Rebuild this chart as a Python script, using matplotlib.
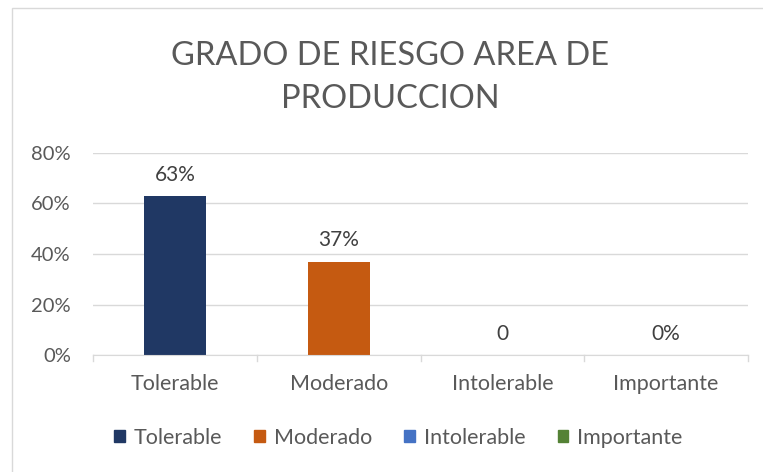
import matplotlib.pyplot as plt
from matplotlib.patches import Rectangle

categorias = ["Tolerable", "Moderado", "Intolerable", "Importante"]
valores = [0.63, 0.37, 0.0, 0.0]
etiquetas = ["63%", "37%", "0", "0%"]
colores = ["#203864", "#C55A11", "#4472C4", "#548235"]
ticks_y = [0, 0.2, 0.4, 0.6, 0.8]

plt.rcParams['font.family'] = ['Lato', 'DejaVu Sans']
gris = "#595959"

fig = plt.figure(figsize=(7.63, 4.72), dpi=100)
ax = fig.add_axes([93/763, 1-355/472, 655/763, 202/472])

x = range(len(categorias))
barras = ax.bar(x, valores, width=0.38, color=colores)
for i, b in enumerate(barras):
    ax.text(b.get_x() + b.get_width()/2, valores[i] + 0.045, etiquetas[i],
            ha="center", va="bottom", fontsize=15, color="#404040")

ax.set_xlim(-0.5, 3.5)
ax.set_ylim(0, 0.8)
ax.set_yticks(ticks_y)
ax.set_yticklabels([f"{int(t*100)}%" for t in ticks_y])
ax.set_xticks(list(x))
ax.set_xticklabels(categorias)
ax.tick_params(axis="y", length=0, labelsize=14.5, labelcolor=gris, pad=16)
ax.tick_params(axis="x", length=0, labelsize=15.5, labelcolor=gris, pad=14)
ax.yaxis.grid(True, color="#D9D9D9", linewidth=1)
ax.set_axisbelow(True)
for s in ["top", "right", "left"]:
    ax.spines[s].set_visible(False)
ax.spines["bottom"].set_color("#D9D9D9")
# separadores de categoria
for xs in [-0.5, 0.5, 1.5, 2.5, 3.5]:
    ax.plot([xs, xs], [0, -0.025], color="#D9D9D9", lw=1, clip_on=False)

fig.text(0.511, 1-56/472, "GRADO DE RIESGO AREA DE", ha="center", va="center",
         fontsize=23.5, color=gris)
fig.text(0.511, 1-99/472, "PRODUCCION", ha="center", va="center",
         fontsize=23.5, color=gris)

handles = [Rectangle((0, 0), 1, 1, color=c) for c in colores]
fig.legend(handles, categorias, loc="center", bbox_to_anchor=(0.522, 1-438/472),
           ncol=4, frameon=False, fontsize=15.5, labelcolor=gris,
           handlelength=0.5, handleheight=0.5, handletextpad=0.4, columnspacing=1.5)

fig.patches.append(Rectangle((12/763, -0.1), 2, 1.1 - 8/472, transform=fig.transFigure,
                             fill=False, edgecolor="#D9D9D9", lw=1))

fig.savefig("out.png", dpi=100)
